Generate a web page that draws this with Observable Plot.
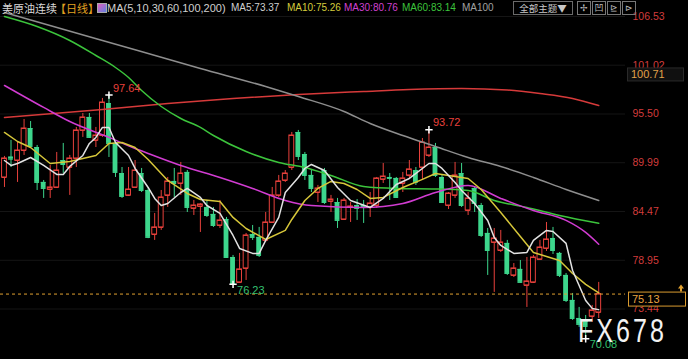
<!DOCTYPE html>
<html><head><meta charset="utf-8">
<script src="https://cdn.jsdelivr.net/npm/d3@7"></script>
<script src="https://cdn.jsdelivr.net/npm/@observablehq/plot@0.6"></script>
<style>
html,body{margin:0;padding:0;background:#000;}
#wrap{position:relative;width:688px;height:359px;overflow:hidden;background:#000;font-family:"Liberation Sans",Arial,sans-serif;}
.lg{position:absolute;top:2px;font-size:10px;line-height:12px;white-space:nowrap;}
.cj{font-family:"Noto Sans CJK SC","Liberation Sans",sans-serif;font-size:11px;}
.ib{position:absolute;top:1px;width:12px;height:12px;border:1px solid #777;color:#bbb;font-size:9px;line-height:12px;text-align:center;}
</style></head><body><div id="wrap"></div>
<script>
// ---- data ----
const opens  = [88.32,90.62,90.24,91.37,93.86,91.71,87.76,86.96,87.19,90.24,89.45,90.47,93.64,95.11,92.51,93.07,96.69,92.17,88.77,86.29,87.19,88.77,86.85,81.87,82.67,86.29,87.87,87.64,88.89,84.82,85.04,84.93,84.14,82.89,83.57,79.27,76.45,78.03,81.87,81.54,81.20,83.23,86.29,87.98,89.45,93.41,90.92,88.55,86.62,89.11,85.61,85.49,83.57,84.93,85.15,85.15,84.93,85.15,88.10,88.32,88.21,87.64,88.55,89.11,89.45,90.81,91.71,88.32,85.15,86.29,88.77,84.59,87.08,85.15,81.99,80.97,80.06,80.86,77.24,77.92,76.11,76.45,79.05,80.29,81.42,79.73,77.24,74.41,72.37,72.03,72.60,73.05];
const highs  = [90.70,92.51,92.28,94.88,94.65,91.94,87.98,89.68,91.15,92.17,90.81,93.98,95.56,95.56,93.98,97.26,97.64,92.28,89.45,89.45,90.24,89.34,87.08,84.25,86.85,88.32,89.34,90.02,89.11,85.72,85.38,85.72,84.93,85.72,83.80,79.50,79.73,81.99,82.89,82.67,84.36,87.19,88.55,89.11,93.41,93.64,91.15,89.11,87.42,89.34,86.29,85.95,85.95,85.49,85.83,85.72,86.62,88.32,89.90,88.77,88.32,88.89,90.24,89.45,92.73,93.72,92.17,88.55,86.62,90.02,89.90,86.62,87.19,85.38,82.55,82.55,82.33,81.20,78.59,78.93,79.27,79.50,81.20,83.23,82.67,79.84,77.46,75.20,73.62,72.71,73.84,76.45];
const lows   = [87.19,89.45,87.76,90.81,91.60,86.85,85.95,85.95,87.08,88.77,86.29,89.45,92.85,92.73,91.71,92.85,90.58,88.32,85.95,86.17,87.08,86.62,81.40,81.20,82.33,84.93,86.06,86.29,84.36,84.02,82.10,83.80,82.67,82.55,79.16,76.23,76.40,76.67,81.20,79.27,80.97,83.12,86.06,87.76,89.11,90.24,87.98,86.62,85.49,85.27,84.36,82.55,83.46,83.23,83.46,83.12,83.80,84.82,87.64,85.72,85.95,86.62,88.21,87.42,87.98,90.58,88.32,85.38,84.70,85.95,84.93,84.02,84.36,81.54,77.24,75.32,79.84,77.24,77.01,76.33,73.62,76.33,78.93,79.95,79.61,77.01,74.18,72.15,71.36,70.08,71.92,72.37];
const closes = [90.47,90.39,91.37,93.86,91.83,87.76,87.08,87.19,89.11,89.79,90.47,93.64,95.11,92.85,93.07,96.80,92.17,88.89,86.17,86.96,89.11,86.85,81.54,82.67,86.06,87.87,87.64,88.77,84.93,85.15,85.27,84.02,82.89,83.46,79.27,76.33,77.92,81.76,81.54,79.50,83.23,86.29,87.87,88.77,93.07,90.70,88.55,87.08,87.08,85.49,85.83,83.46,85.72,85.04,84.82,84.93,85.38,88.21,88.43,88.21,86.06,88.21,89.23,87.76,92.28,91.71,88.55,85.49,86.51,88.55,85.15,85.95,85.38,81.76,80.06,81.42,80.97,77.46,78.03,76.45,76.56,79.27,80.40,81.31,80.06,77.24,74.41,72.37,71.70,71.47,73.28,75.13];

const ma5I  = [0,1,2,4,6,8,9,10,12,13,14,15,16,17,19,20,22,23,24,25,27,28,30,31,33,35,36,38,39,40,42,43,45,46,47,49,51,53,56,58,60,62,65,66,67,69,70,72,74,75,76,78,80,81,83,84,86,87,89,90,91];
const ma5V  = [90.24,89.68,89.90,90.58,89.68,88.66,88.66,89.57,90.81,92.17,92.85,93.98,93.98,92.28,90.81,89.34,87.19,85.95,85.15,85.38,86.62,87.08,86.06,85.15,84.25,81.76,80.29,79.73,79.73,81.20,83.80,86.62,88.32,89.34,89.79,89.11,87.19,85.72,84.93,85.95,87.53,88.21,89.90,89.90,89.34,87.76,86.85,85.38,83.46,81.54,80.63,79.73,79.84,81.20,82.33,82.21,80.86,77.80,74.41,73.51,73.37];
const ma10I = [0,2,4,7,10,12,14,16,18,20,22,25,28,30,33,35,37,40,43,44,46,48,50,52,54,56,58,61,64,66,68,71,73,76,79,81,84,85,87,89,91];
const ma10V = [93.41,92.39,91.71,89.90,90.13,90.47,90.81,92.17,92.28,91.71,90.36,87.98,86.51,85.83,85.61,83.80,82.55,81.31,82.33,83.57,85.72,87.08,87.87,87.64,86.96,85.95,86.06,87.19,88.10,88.77,88.55,88.21,86.96,84.36,81.65,79.84,79.16,78.93,77.46,76.22,75.26];
const ma30I = [0,6,10,16,20,22,27,33,38,43,47,55,61,66,71,76,81,86,89,91];
const ma30V = [98.73,96.24,94.65,92.85,91.60,91.04,89.68,88.32,87.08,85.72,85.15,84.93,85.38,86.62,87.42,85.95,84.59,83.46,82.10,80.76];
const ma60I = [0,5,10,14,17,19,21,24,27,30,32,37,42,46,50,55,60,66,71,75,80,85,91];
const ma60V = [106.53,105.40,103.82,102.12,100.76,99.63,98.16,96.35,94.99,93.98,93.07,91.26,90.02,89.45,88.55,87.30,87.08,87.02,86.85,85.72,84.93,84.02,83.14];
const ma100I = [0,15,30,40,45,52,56,61,66,71,76,81,86,91];
const ma100V = [106.98,103.82,100.65,98.61,97.48,95.79,94.43,93.07,91.83,90.58,89.57,88.32,86.96,85.72];
const ma200I = [0,15,25,35,45,55,62,70,77,82,87,91];
const ma200V = [95.11,96.01,96.69,97.26,97.71,98.05,98.27,98.39,98.22,97.82,97.26,96.46];

const yTicks = [106.53,101.02,95.50,89.99,84.47,78.95,73.44];
const lastPrice = 75.13;
const refPrice = 100.71;
const highMarks = [{i:16, v:97.64},{i:65, v:93.72}];
const lowMarks  = [{i:35, v:76.23},{i:89, v:70.08}];

// ---- build ----
const UP="#e8413c", DOWN="#3dd68c";
const candles = opens.map((o,k)=>({i:k, open:o, high:highs[k], low:lows[k], close:closes[k], up: closes[k]>=o}));
const ups = candles.filter(d=>d.up), downs = candles.filter(d=>!d.up);
const series = (I,V)=>I.map((i,k)=>({i, v:V[k]}));
const hw = 0.37;

const chart = Plot.plot({
  width:688, height:359, marginTop:0, marginBottom:0, marginLeft:0, marginRight:63,
  x:{domain:[-0.61,95.1], axis:null},
  y:{domain:[67.729,108.34], axis:null},
  style:{background:"#000", fontFamily:"'Liberation Sans', Arial, sans-serif", overflow:"visible"},
  marks:[
    Plot.ruleY(yTicks,{stroke:"#151515"}),
    Plot.ruleX(ups,{x:"i", y1:"low", y2:"high", stroke:UP}),
    Plot.ruleX(downs,{x:"i", y1:"low", y2:"high", stroke:DOWN}),
    Plot.rect(downs,{x1:d=>d.i-hw, x2:d=>d.i+hw, y1:"open", y2:"close", fill:DOWN}),
    Plot.rect(ups,{x1:d=>d.i-hw, x2:d=>d.i+hw, y1:"open", y2:"close", fill:"#000", stroke:UP}),
    Plot.ruleY(ups,{y:"close", x1:d=>d.i-hw, x2:d=>d.i+hw, stroke:UP}),
    Plot.ruleY(ups,{y:"open", x1:d=>d.i-hw, x2:d=>d.i+hw, stroke:UP}),
    Plot.ruleY(downs,{y:"close", x1:d=>d.i-hw, x2:d=>d.i+hw, stroke:DOWN}),
    Plot.ruleY(downs,{y:"open", x1:d=>d.i-hw, x2:d=>d.i+hw, stroke:DOWN}),
    Plot.line(series(ma200I,ma200V),{x:"i", y:"v", stroke:"#d63a3a", curve:"monotone-x"}),
    Plot.line(series(ma100I,ma100V),{x:"i", y:"v", stroke:"#8e8e8e", curve:"monotone-x"}),
    Plot.line(series(ma60I,ma60V),{x:"i", y:"v", stroke:"#3cc43c", curve:"monotone-x"}),
    Plot.line(series(ma30I,ma30V),{x:"i", y:"v", stroke:"#d23cd2", curve:"monotone-x"}),
    Plot.line(series(ma10I,ma10V),{x:"i", y:"v", stroke:"#d6c63a"}),
    Plot.line(series(ma5I,ma5V),{x:"i", y:"v", stroke:"#e2e2e2"}),
    Plot.ruleY([lastPrice],{stroke:"#e0a030", strokeDasharray:"3,3"}),
    Plot.dot(highMarks,{x:"i", y:"v", symbol:"plus", r:2.5, stroke:"#fff"}),
    Plot.dot(lowMarks,{x:"i", y:"v", symbol:"plus", r:2.5, stroke:"#fff"}),
    Plot.text(highMarks,{x:"i", y:"v", text:d=>d.v.toFixed(2), dx:4, dy:-7, textAnchor:"start", fill:"#e8403c", fontSize:11}),
    Plot.text(lowMarks,{x:"i", y:"v", text:d=>d.v.toFixed(2), dx:4, dy:6, textAnchor:"start", fill:"#34c070", fontSize:11}),
    Plot.text(yTicks,{y:d=>d, text:d=>d.toFixed(2), frameAnchor:"right", dx:7, textAnchor:"start", fill:"#d23c3c", fontSize:10.5})
  ]
});
document.getElementById("wrap").appendChild(chart);

const svg = d3.select(chart);
const sy = chart.scale("y");
const yl = sy.apply(lastPrice);
// watermark first so price labels sit on top of it
svg.append("text").attr("transform","translate(578,342) scale(0.76,1)").attr("text-anchor","start").attr("fill","#f2f2f2").attr("font-size",33).attr("letter-spacing",4).attr("font-family","'Liberation Sans', Arial, sans-serif").text("FX678");
svg.append("rect").attr("x",628.5).attr("y",yl-1.5).attr("width",57).attr("height",14).attr("fill","#000").attr("stroke","#d99a30");
svg.append("text").attr("x",632).attr("y",yl+5.5).attr("dy","0.35em").attr("text-anchor","start").attr("fill","#e8a440").attr("font-size",11).text(lastPrice.toFixed(2));
svg.append("path").attr("d",`M681,${yl-9} l3,4 h-2 v3 h-2 v-3 h-2 z`).attr("fill","#e0a030");
const yr = sy.apply(refPrice);
svg.append("rect").attr("x",627.5).attr("y",yr+0.5).attr("width",56).attr("height",13).attr("fill","#101010").attr("stroke","#2a2a2a");
svg.append("text").attr("x",631).attr("y",yr+7).attr("dy","0.35em").attr("text-anchor","start").attr("fill","#e0a24a").attr("font-size",11).text(refPrice.toFixed(2));

// ---- legend / toolbar ----
const wrap = document.getElementById("wrap");
const items = [
  [2,"美原油连续","#d8d8d8",true],[55,"【日线】","#e0a020",true],
  [107,"MA(5,10,30,60,100,200)","#d0d0d0"],[231,"MA5:73.37","#d0d0d0"],
  [287,"MA10:75.26","#d4cc3c"],[344,"MA30:80.76","#d040d0"],
  [402,"MA60:83.14","#3cc43c"],[462,"MA100","#a0a0a0"]
];
for (const [x,t,c,cj] of items){
  const s=document.createElement("span"); s.className="lg"+(cj?" cj":""); s.style.left=x+"px"; s.style.color=c; s.textContent=t;
  if (x===107) s.style.fontSize="11px";
  wrap.appendChild(s);
}
const ic=document.createElement("span");
ic.style.cssText="position:absolute;left:97px;top:3px;width:8px;height:8px;border:1px solid #aaa;background:linear-gradient(135deg,#e060c0,#6080e0);";
wrap.appendChild(ic);
const btn=document.createElement("span");
btn.className="cj";
btn.style.cssText="position:absolute;left:513px;top:1px;width:58px;height:12px;border:1px solid #6a6a6a;color:#c8c8c8;font-size:9.5px;line-height:12px;text-align:center;";
btn.textContent="全部主题▼";
wrap.appendChild(btn);
["✢","凹","⊵","⊳"].forEach((g,k)=>{
  const b=document.createElement("span"); b.className="ib cj"; b.style.left=(577+k*15)+"px"; b.textContent=g; wrap.appendChild(b);
});
</script></body></html>
